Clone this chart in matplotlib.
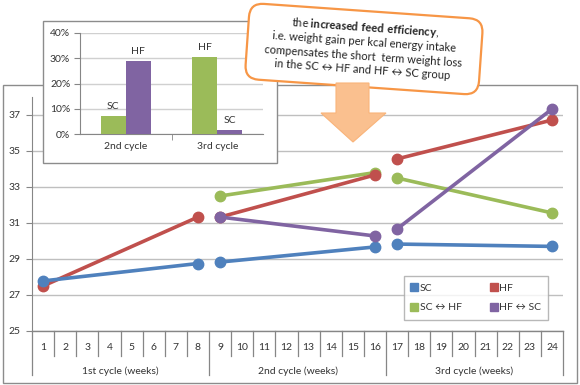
import numpy as np
import matplotlib.pyplot as plt
from matplotlib.patches import Rectangle, FancyBboxPatch, Polygon
from matplotlib.lines import Line2D
from matplotlib.transforms import Affine2D

plt.rcParams['font.family'] = ['Lato', 'DejaVu Sans']
plt.rcParams['mathtext.fontset'] = 'custom'
plt.rcParams['mathtext.rm'] = 'Lato'
plt.rcParams['mathtext.bf'] = 'Lato:bold'

# ---- data (body weight, g) ----
weeks = list(range(1, 25))
cycle_first = [1, 9, 17]
cycle_last = [8, 16, 24]
cycle_names = ['1st cycle (weeks)', '2nd cycle (weeks)', '3rd cycle (weeks)']

sc_start = [27.78, 28.83, 29.83]
sc_end = [28.75, 29.67, 29.70]
hf_start = [27.50, 31.33, 34.56]
hf_end = [31.33, 33.67, 36.72]
schf_start = [np.nan, 32.50, 33.50]
schf_end = [np.nan, 33.80, 31.56]
hfsc_start = [np.nan, 31.33, 30.67]
hfsc_end = [np.nan, 30.28, 37.33]

# ---- inset: feed efficiency ----
bar_cats = ['2nd cycle', '3rd cycle']
green_vals = [7.1, 30.4]
purple_vals = [28.9, 1.6]
green_labels = ['SC', 'HF']
purple_labels = ['HF', 'SC']

blue = '#4F81BD'
red = '#C0504D'
green = '#9BBB59'
purple = '#8064A2'
txt = '#333333'
W, H = 580, 385

fig = plt.figure(figsize=(5.8, 3.85), dpi=100)

def fbox(l, t, r, b):
    return [l / W, 1 - b / H, (r - l) / W, (b - t) / H]

# outer frame of the main chart
fig.patches.append(Rectangle((3 / W, 1 - 383 / H), 574 / W, 298 / H, transform=fig.transFigure,
                             fill=False, edgecolor='#8C8C8C', lw=1, zorder=0))

ax = fig.add_axes(fbox(32, 97, 563, 331))
series = [(sc_start, sc_end, blue, 4), (hf_start, hf_end, red, 3),
          (schf_start, schf_end, green, 2), (hfsc_start, hfsc_end, purple, 5)]
for st, en, col, z in series:
    for i in range(3):
        if np.isnan(st[i]):
            continue
        ax.plot([cycle_first[i], cycle_last[i]], [st[i], en[i]], color=col, lw=2.6,
                marker='o', ms=7.5, solid_capstyle='round', zorder=z)

ax.set_xlim(0.5, 24.5)
ax.set_ylim(25, 38)
ax.set_yticks(range(25, 38, 2))
ax.yaxis.grid(True, color='#BFBFBF', lw=1)
ax.set_axisbelow(True)
for s in ['top', 'right', 'bottom']:
    ax.spines[s].set_visible(False)
ax.spines['left'].set_color('#868686')
ax.tick_params(axis='y', colors='#868686', labelcolor=txt, labelsize=7.5, length=4, pad=4)
ax.set_xticks(weeks)
ax.set_xticklabels([str(w) for w in weeks], fontsize=7.5, color=txt)
ax.tick_params(axis='x', length=0, pad=9)

tr = ax.get_xaxis_transform()
ax.plot([0.5, 24.5], [0, 0], color='#868686', lw=1, transform=tr, clip_on=False)
for k in range(25):
    x = k + 0.5
    low = -0.188 if k % 8 == 0 else -0.107
    ax.plot([x, x], [0, low], color='#868686', lw=0.9, transform=tr, clip_on=False)
for i in range(3):
    ax.text((cycle_first[i] + cycle_last[i]) / 2, -0.171, cycle_names[i], transform=tr,
            ha='center', va='center', fontsize=7.5, color=txt)

handles = [Line2D([], [], marker='s', ls='none', color=c, ms=5.5) for c in [blue, green, red, purple]]
labels = ['SC', 'SC \u2194 HF', 'HF', 'HF \u2194 SC']
leg = ax.legend(handles, labels, ncol=2, loc='upper left', bbox_to_anchor=(404 / W, 1 - 276 / H),
                bbox_transform=fig.transFigure, fontsize=7.5, frameon=True, fancybox=False,
                edgecolor='#A6A6A6', handlelength=0.6, handletextpad=0.2, columnspacing=2.8,
                labelspacing=1.0, borderpad=0.7, borderaxespad=0)
leg.get_frame().set_linewidth(1)
for t in leg.get_texts():
    t.set_color(txt)

# inset frame + axes
fig.patches.append(Rectangle((43 / W, 1 - 163 / H), 234 / W, 142 / H, transform=fig.transFigure,
                             facecolor='white', edgecolor='#8C8C8C', lw=1, zorder=5))
ax2 = fig.add_axes(fbox(80, 33, 263, 134), zorder=6)
ax2.patch.set_alpha(0)
xs = np.arange(len(bar_cats))
bw = 0.275
ax2.bar(xs - bw / 2, green_vals, bw, color=green, zorder=3)
ax2.bar(xs + bw / 2, purple_vals, bw, color=purple, zorder=3)
for i in range(len(bar_cats)):
    ax2.text(xs[i] - bw / 2, green_vals[i] + 2, green_labels[i], ha='center', va='bottom', fontsize=7.5, color=txt)
    ax2.text(xs[i] + bw / 2, purple_vals[i] + 2, purple_labels[i], ha='center', va='bottom', fontsize=7.5, color=txt)
ax2.set_xlim(-0.5, 1.5)
ax2.set_ylim(0, 40)
ax2.set_yticks(range(0, 41, 10))
ax2.set_yticklabels(['%d%%' % v for v in range(0, 41, 10)])
ax2.yaxis.grid(True, color='#D0D0D0', lw=1)
ax2.set_axisbelow(True)
ax2.set_xticks(xs)
ax2.set_xticklabels(bar_cats)
ax2.set_xticks([0.5], minor=True)
ax2.tick_params(axis='x', which='major', length=0, labelsize=7.5, labelcolor=txt, pad=6)
ax2.tick_params(axis='x', which='minor', length=4, color='#868686')
ax2.tick_params(axis='y', length=4, color='#868686', labelsize=7.5, labelcolor=txt, pad=3)
for s in ['top', 'right']:
    ax2.spines[s].set_visible(False)
ax2.spines['left'].set_color('#868686')
ax2.spines['bottom'].set_color('#868686')

# callout overlay in pixel coordinates
ov = fig.add_axes([0, 0, 1, 1], zorder=10)
ov.set_xlim(0, W)
ov.set_ylim(H, 0)
ov.axis('off')
cx, cy, ang = 364, 49, 4
rot = Affine2D().rotate_deg_around(cx, cy, ang) + ov.transData
box = FancyBboxPatch((cx - 113, cy - 34), 226, 68, boxstyle='round,pad=4,rounding_size=14',
                     facecolor='white', edgecolor='#F79646', lw=1.6, transform=rot)
ov.add_patch(box)
lines = ['the $\\mathbf{increased\\ feed\\ efficiency}$,',
         'i.e. weight gain per kcal energy intake',
         'compensates the short  term weight loss',
         'in the SC \u2194 HF and HF \u2194 SC group']
for j, s in enumerate(lines):
    dy = -21 + 14 * j
    px, py = rot.transform((cx, cy + dy))
    x0, y0 = ov.transData.inverted().transform((px, py))
    ov.text(x0, y0, s, rotation=-ang, rotation_mode='anchor', ha='center', va='center',
            fontsize=8, color='#222222')
arrow = Polygon([(336, 83), (369, 83), (369, 113), (386, 113), (353, 142), (321, 113), (336, 113)],
                closed=True, facecolor='#FAC08F', edgecolor='#F9B47A', lw=0.8)
ov.add_patch(arrow)

fig.savefig('out.png', dpi=100)
